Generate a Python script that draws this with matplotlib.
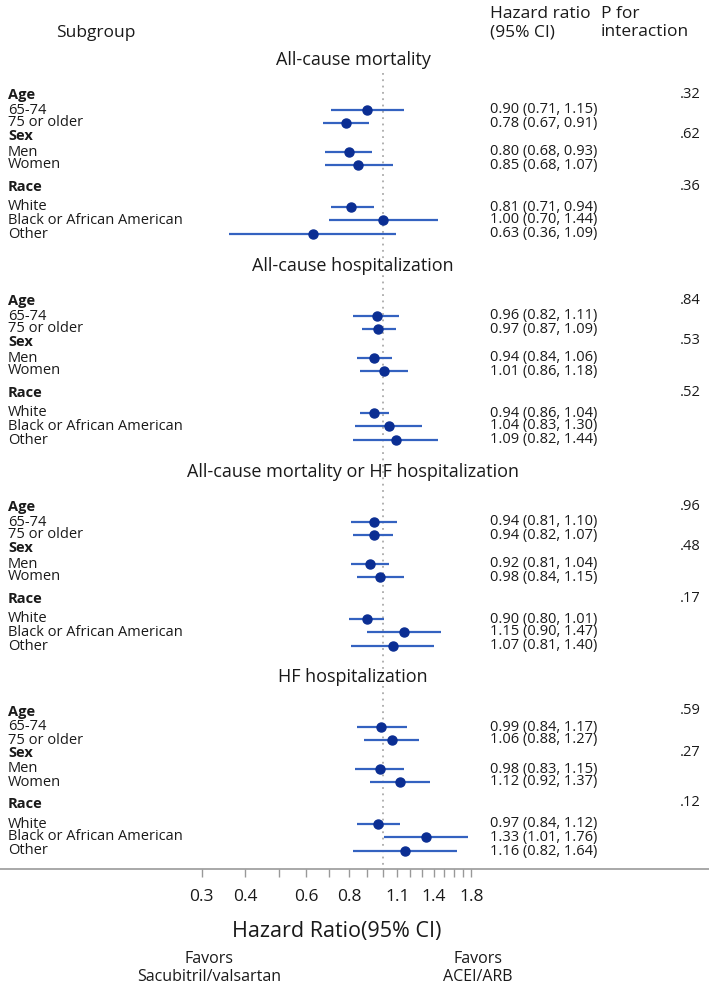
import numpy as np
import matplotlib.pyplot as plt
import matplotlib.transforms as mtransforms

plt.rcParams['font.family'] = ['Open Sans', 'DejaVu Sans']

# outcomes and subgroups
outcomes = ['All-cause mortality', 'All-cause hospitalization',
            'All-cause mortality or HF hospitalization', 'HF hospitalization']
groups = ['Age', 'Sex', 'Race']
subgroups = ['65-74', '75 or older', 'Men', 'Women',
             'White', 'Black or African American', 'Other']

# hazard ratios with 95% CI for each outcome
mort_hr = [0.90, 0.78, 0.80, 0.85, 0.81, 1.00, 0.63]
mort_lo = [0.71, 0.67, 0.68, 0.68, 0.71, 0.70, 0.36]
mort_hi = [1.15, 0.91, 0.93, 1.07, 0.94, 1.44, 1.09]

hosp_hr = [0.96, 0.97, 0.94, 1.01, 0.94, 1.04, 1.09]
hosp_lo = [0.82, 0.87, 0.84, 0.86, 0.86, 0.83, 0.82]
hosp_hi = [1.11, 1.09, 1.06, 1.18, 1.04, 1.30, 1.44]

comp_hr = [0.94, 0.94, 0.92, 0.98, 0.90, 1.15, 1.07]
comp_lo = [0.81, 0.82, 0.81, 0.84, 0.80, 0.90, 0.81]
comp_hi = [1.10, 1.07, 1.04, 1.15, 1.01, 1.47, 1.40]

hf_hr = [0.99, 1.06, 0.98, 1.12, 0.97, 1.33, 1.16]
hf_lo = [0.84, 0.88, 0.83, 0.92, 0.84, 1.01, 0.82]
hf_hi = [1.17, 1.27, 1.15, 1.37, 1.12, 1.76, 1.64]

# P for interaction (age, sex, race)
mort_p = ['.32', '.62', '.36']
hosp_p = ['.84', '.53', '.52']
comp_p = ['.96', '.48', '.17']
hf_p = ['.59', '.27', '.12']

hr_all = [mort_hr, hosp_hr, comp_hr, hf_hr]
lo_all = [mort_lo, hosp_lo, comp_lo, hf_lo]
hi_all = [mort_hi, hosp_hi, comp_hi, hf_hi]
p_all = [mort_p, hosp_p, comp_p, hf_p]

# x axis ticks
tick_vals = [0.3, 0.4, 0.5, 0.6, 0.7, 0.8, 0.9, 1.0, 1.1, 1.2, 1.3,
             1.4, 1.5, 1.6, 1.7, 1.8]
tick_labels = ['0.3', '0.4', '', '0.6', '', '0.8', '', '', '1.1', '', '',
               '1.4', '', '', '', '1.8']

# layout (pixel coords)
W, H = 709, 984
sec_top = [60, 266, 472, 677]
grp_off = [35, 76, 127]
row_off = [50, 63, 92, 105, 147, 160, 174]

line_col = '#3462C0'
dot_col = '#0B2E93'
txt_col = '#1a1a1a'

fig = plt.figure(figsize=(W / 100, H / 100), dpi=100)
ax = fig.add_axes([0, 0, 1, 1])
ax.set_xscale('log')
ax.set_xlim(0.0784, 8.74)
ax.set_ylim(H, 0)

# x in pixels, y in data (pixels)
tr = mtransforms.blended_transform_factory(ax.transAxes, ax.transData)
def px(x):
    return x / W

# reference line at HR = 1
ax.plot([1.0, 1.0], [73, 868], color='#aaaaaa', ls=(0, (1, 2.5)), lw=1.3, zorder=1)

# headers
ax.text(px(96), 33, 'Subgroup', transform=tr, ha='center', va='center', fontsize=12.5, color=txt_col)
ax.text(px(490), 23, 'Hazard ratio\n(95% CI)', transform=tr, ha='left', va='center',
        fontsize=12.5, color=txt_col, linespacing=1.2)
ax.text(px(601), 23, 'P for\ninteraction', transform=tr, ha='left', va='center',
        fontsize=12.5, color=txt_col, linespacing=1.2)

for k in range(len(outcomes)):
    top = sec_top[k]
    ax.text(px(353), top, outcomes[k], transform=tr, ha='center', va='center',
            fontsize=13, color=txt_col)
    for g in range(len(groups)):
        ax.text(px(8), top + grp_off[g], groups[g], transform=tr, ha='left', va='center',
                fontsize=10.5, fontweight='bold', color=txt_col)
        ax.text(px(701), top + grp_off[g] - 1, p_all[k][g], transform=tr, ha='right',
                va='center', fontsize=10.5, color=txt_col)
    ys = [top + r for r in row_off]
    hr = np.array(hr_all[k])
    lo = np.array(lo_all[k])
    hi = np.array(hi_all[k])
    ax.hlines(ys, lo, hi, color=line_col, lw=1.6, zorder=2)
    ax.plot(hr, ys, 'o', color=dot_col, ms=6.5, zorder=3)
    for i in range(len(subgroups)):
        ax.text(px(8), ys[i], subgroups[i], transform=tr, ha='left', va='center',
                fontsize=10.5, color=txt_col)
        ax.text(px(490), ys[i], '%.2f (%.2f, %.2f)' % (hr[i], lo[i], hi[i]),
                transform=tr, ha='left', va='center', fontsize=10.5, color=txt_col)

# axis
for s in ['top', 'left', 'right']:
    ax.spines[s].set_visible(False)
ax.spines['bottom'].set_position(('data', 869))
ax.spines['bottom'].set_color('#999999')
ax.spines['bottom'].set_linewidth(1.2)
ax.set_yticks([])
ax.set_xticks(tick_vals)
ax.set_xticklabels(tick_labels)
ax.xaxis.set_minor_locator(plt.NullLocator())
ax.tick_params(axis='x', direction='out', length=6, width=1, color='#999999',
               labelsize=12.5, labelcolor=txt_col, pad=8.5)

ax.text(px(337), 932, 'Hazard Ratio(95% CI)', transform=tr, ha='center', va='center',
        fontsize=15.5, color=txt_col)
ax.text(px(209), 968, 'Favors\nSacubitril/valsartan', transform=tr, ha='center',
        va='center', fontsize=11.5, color=txt_col, linespacing=1.1)
ax.text(px(478), 968, 'Favors\nACEI/ARB', transform=tr, ha='center',
        va='center', fontsize=11.5, color=txt_col, linespacing=1.1)

fig.savefig('out.png', dpi=100)
